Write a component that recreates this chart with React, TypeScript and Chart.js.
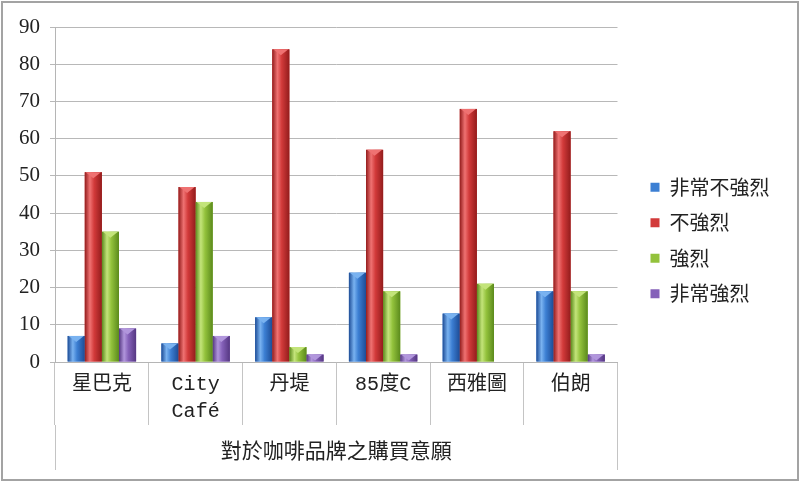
import { useEffect, useRef } from "react"
import { Chart, registerables } from "chart.js"
Chart.register(...registerables)

// brands (multi-line labels are arrays)
const brands = [["星巴克"], ["City", "Café"], ["丹堤"], ["85度C"], ["西雅圖"], ["伯朗"]]
const groupTitle = "對於咖啡品牌之購買意願"
const seriesNames = ["非常不強烈", "不強烈", "強烈", "非常強烈"]

// values
const veryWeak = [7, 5, 12, 24, 13, 19]
const weak = [51, 47, 84, 57, 68, 62]
const strong = [35, 43, 4, 19, 21, 19]
const veryStrong = [9, 7, 2, 2, 0, 2]

const yMax = 90
const yStep = 10

// base, light, dark
const palette = [
  ["#3c7fd3", "#79b2f0", "#1d4c96"],
  ["#d23a3a", "#ef7272", "#931c1c"],
  ["#93c23c", "#c3e47a", "#5b8a1c"],
  ["#8561b9", "#b196dc", "#553782"],
]

const serif = '"Liberation Serif", "Noto Sans CJK TC"'
const mono = '"Liberation Mono", "Noto Sans CJK TC"'
const cjk = '"Noto Sans CJK TC", "Liberation Serif"'

// paints the glossy cylinder look over each bar
const bar3d = {
  id: "bar3d",
  afterDatasetsDraw(chart: any) {
    const ctx = chart.ctx
    chart.data.datasets.forEach((_ds: any, i: number) => {
      const meta = chart.getDatasetMeta(i)
      const [base, light, dark] = palette[i]
      meta.data.forEach((bar: any) => {
        const { x, y, base: b, width } = bar.getProps(["x", "y", "base", "width"], true)
        const h = b - y
        if (h < 1) return
        const l = x - width / 2
        ctx.save()
        const g = ctx.createLinearGradient(l, 0, l + width, 0)
        g.addColorStop(0, dark)
        g.addColorStop(0.3, light)
        g.addColorStop(0.55, base)
        g.addColorStop(1, dark)
        ctx.fillStyle = g
        ctx.fillRect(l, y, width, h)
        const cap = Math.min(6, h)
        ctx.beginPath()
        ctx.moveTo(l + 1, y)
        ctx.lineTo(l + width - 1, y)
        ctx.lineTo(x, y + cap)
        ctx.closePath()
        ctx.fillStyle = light
        ctx.fill()
        ctx.restore()
      })
    })
  },
}

// nudge legend to where the reference has it
const legendShift = {
  id: "legendShift",
  afterLayout(chart: any) {
    const lg = chart.legend
    if (!lg) return
    const dx = 635 - lg.left
    lg.left += dx
    lg.right += dx
    lg.top -= 8
    lg.bottom -= 8
  },
}

export default function App() {
  const chartRef = useRef<HTMLCanvasElement>(null)
  const chartInstance = useRef<Chart | null>(null)

  useEffect(() => {
    document.body.style.margin = "0"
    if (!chartRef.current) return
    if (chartInstance.current) chartInstance.current.destroy()
    const ctx = chartRef.current.getContext("2d")
    if (!ctx) return

    const values = [veryWeak, weak, strong, veryStrong]

    chartInstance.current = new Chart(ctx, {
      type: "bar",
      data: {
        labels: brands,
        datasets: values.map((v, i) => ({
          label: seriesNames[i],
          data: v,
          backgroundColor: palette[i][0],
          borderWidth: 0,
          barPercentage: 1,
          categoryPercentage: 0.73,
        })),
      },
      plugins: [bar3d, legendShift],
      options: {
        responsive: true,
        maintainAspectRatio: false,
        animation: false,
        layout: { padding: { top: 27, left: 0, right: 38, bottom: 12 } },
        scales: {
          x: {
            offset: true,
            grid: {
              offset: true,
              drawOnChartArea: false,
              tickLength: 63,
              color: "#c4c4c4",
            },
            border: { display: true, color: "#b5b5b5" },
            ticks: {
              padding: -53.5,
              color: "#222",
              font: { family: mono, size: 20, lineHeight: 1.35 },
              maxRotation: 0,
              autoSkip: false,
            },
            afterFit: (s: any) => { s.height = 63 },
          },
          x2: {
            type: "category",
            position: "bottom",
            labels: [groupTitle],
            offset: true,
            grid: {
              offset: true,
              drawOnChartArea: false,
              tickLength: 45,
              color: "#c4c4c4",
            },
            border: { display: false },
            ticks: {
              padding: -33.5,
              color: "#222",
              font: { family: cjk, size: 21, lineHeight: 1.3 },
              maxRotation: 0,
            },
            afterFit: (s: any) => { s.height = 45 },
          },
          y: {
            min: 0,
            max: yMax,
            ticks: {
              stepSize: yStep,
              padding: 10,
              color: "#222",
              font: { family: serif, size: 21 },
            },
            grid: { color: "#b8b8b8", tickLength: 5 },
            border: { display: true, color: "#b5b5b5" },
            afterFit: (s: any) => { s.width = 55 },
          },
        },
        plugins: {
          legend: {
            position: "right",
            align: "center",
            labels: {
              boxWidth: 9,
              boxHeight: 9,
              padding: 15.5,
              color: "#222",
              font: { family: cjk, size: 20 },
            },
          },
          tooltip: { enabled: false },
        },
      },
    })

    return () => {
      if (chartInstance.current) {
        chartInstance.current.destroy()
        chartInstance.current = null
      }
    }
  }, [])

  return (
    <div style={{ position: "relative", width: 800, height: 482, background: "#fff" }}>
      <canvas ref={chartRef}></canvas>
      <div
        style={{
          position: "absolute",
          left: 1,
          top: 1,
          width: 798,
          height: 480,
          boxSizing: "border-box",
          border: "2px solid #a3a3a3",
          pointerEvents: "none",
        }}
      />
    </div>
  )
}
